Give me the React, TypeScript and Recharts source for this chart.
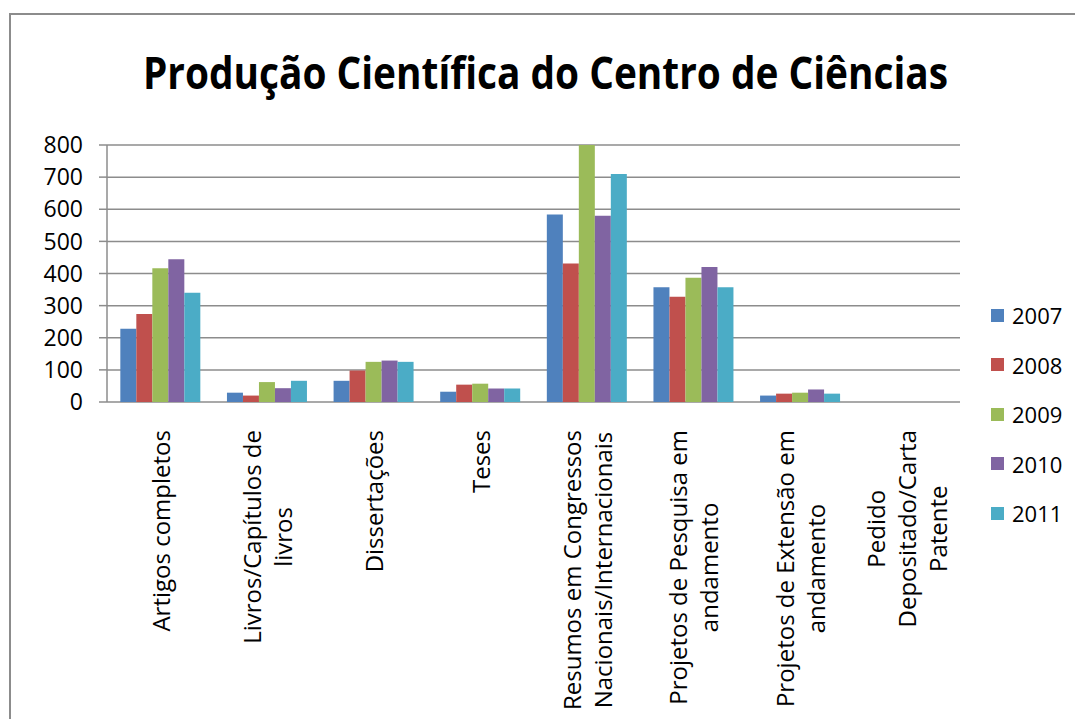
import { BarChart, Bar, XAxis, YAxis, CartesianGrid } from "recharts";

const categories = [
  "Artigos completos",
  "Livros/Capítulos de\nlivros",
  "Dissertações",
  "Teses",
  "Resumos em Congressos\nNacionais/Internacionais",
  "Projetos de Pesquisa em\nandamento",
  "Projetos de Extensão em\nandamento",
  "Pedido\nDepositado/Carta\nPatente",
];
const years = ["2007", "2008", "2009", "2010", "2011"];
const colors = ["#4F81BD", "#C0504D", "#9BBB59", "#8064A2", "#4BACC6"];

const v2007 = [228, 29, 66, 32, 584, 357, 20, 0];
const v2008 = [274, 20, 98, 54, 431, 328, 26, 0];
const v2009 = [416, 62, 125, 57, 800, 387, 29, 0];
const v2010 = [444, 43, 129, 42, 580, 420, 39, 0];
const v2011 = [340, 66, 125, 42, 710, 357, 26, 0];
const series = [v2007, v2008, v2009, v2010, v2011];

const yTicks = [0, 100, 200, 300, 400, 500, 600, 700, 800];
const edgeTicks = [0, 1, 2, 3, 4, 5, 6, 7, 8];

const FONT = "'Open Sans', sans-serif";
const GRID = "#8c8c8c";

const data = categories.map((name, i) => {
  const row: Record<string, string | number> = { name };
  years.forEach((y, s) => (row[y] = series[s][i]));
  return row;
});

let ctx: CanvasRenderingContext2D | null = null;
function measure(text: string, size: number) {
  if (!ctx) ctx = document.createElement("canvas").getContext("2d");
  if (!ctx) return text.length * size * 0.5;
  ctx.font = `${size}px 'Open Sans'`;
  return ctx.measureText(text).width;
}

function CategoryTick({ x, y, payload }: any) {
  const lines = String(payload.value).split("\n");
  const size = 24;
  const maxW = Math.max(...lines.map((l) => measure(l, size)));
  const cy = y + 28 + maxW / 2;
  return (
    <g>
      {lines.map((line, i) => {
        const lx = x + (i - (lines.length - 1) / 2) * 31;
        return (
          <text
            key={i}
            x={lx}
            y={cy}
            transform={`rotate(-90, ${lx}, ${cy})`}
            textAnchor="middle"
            dominantBaseline="central"
            fontSize={size}
            fontFamily={FONT}
            fill="#000"
          >
            {line}
          </text>
        );
      })}
    </g>
  );
}

export default function App() {
  return (
    <div
      style={{
        position: "fixed",
        left: 0,
        top: 0,
        width: 1075,
        height: 719,
        overflow: "hidden",
        background: "#fff",
      }}
    >
      {/* frame */}
      <div
        style={{
          position: "absolute",
          left: 9,
          top: 13,
          width: 1100,
          height: 800,
          border: `2px solid ${GRID}`,
        }}
      />
      <svg
        width={1075}
        height={120}
        style={{ position: "absolute", left: 0, top: 0 }}
      >
        <text
          x={143}
          y={89}
          textLength={805}
          lengthAdjust="spacingAndGlyphs"
          fontSize={44}
          fontWeight="bold"
          fontFamily={FONT}
          fill="#000"
        >
          Produção Científica do Centro de Ciências
        </text>
      </svg>
      <div style={{ position: "absolute", left: 0, top: 0 }}>
        <BarChart
          width={1075}
          height={719}
          data={data}
          margin={{ top: 145, right: 115, left: 47, bottom: 0 }}
          barCategoryGap="12.5%"
          barGap={0}
        >
          <CartesianGrid
            vertical={false}
            stroke={GRID}
            strokeWidth={1.5}
            xAxisId="cat"
          />
          <XAxis
            xAxisId="edges"
            type="number"
            domain={[0, 8]}
            ticks={edgeTicks}
            tick={false}
            tickSize={9}
            height={0}
            axisLine={{ stroke: GRID, strokeWidth: 1.5 }}
            tickLine={{ stroke: GRID, strokeWidth: 1.5 }}
          />
          <XAxis
            xAxisId="cat"
            dataKey="name"
            height={317}
            axisLine={false}
            tickLine={false}
            tickSize={0}
            tickMargin={0}
            interval={0}
            tick={<CategoryTick />}
          />
          <YAxis
            domain={[0, 800]}
            ticks={yTicks}
            width={60}
            tickSize={8}
            tickMargin={16}
            axisLine={{ stroke: GRID, strokeWidth: 1.5 }}
            tickLine={{ stroke: GRID, strokeWidth: 1.5 }}
            tick={{ fontSize: 23, fontFamily: FONT, fill: "#000" }}
          />
          {years.map((y, s) => (
            <Bar
              key={y}
              xAxisId="cat"
              dataKey={y}
              fill={colors[s]}
              isAnimationActive={false}
            />
          ))}
        </BarChart>
      </div>
      {/* legend */}
      {years.map((y, s) => (
        <div
          key={y}
          style={{
            position: "absolute",
            left: 991,
            top: 315 + s * 49.5 - 15,
            height: 30,
            display: "flex",
            alignItems: "center",
            fontFamily: FONT,
            fontSize: 22,
            color: "#000",
          }}
        >
          <span
            style={{
              width: 13,
              height: 13,
              background: colors[s],
              marginRight: 8,
              display: "inline-block",
            }}
          />
          {y}
        </div>
      ))}
    </div>
  );
}
